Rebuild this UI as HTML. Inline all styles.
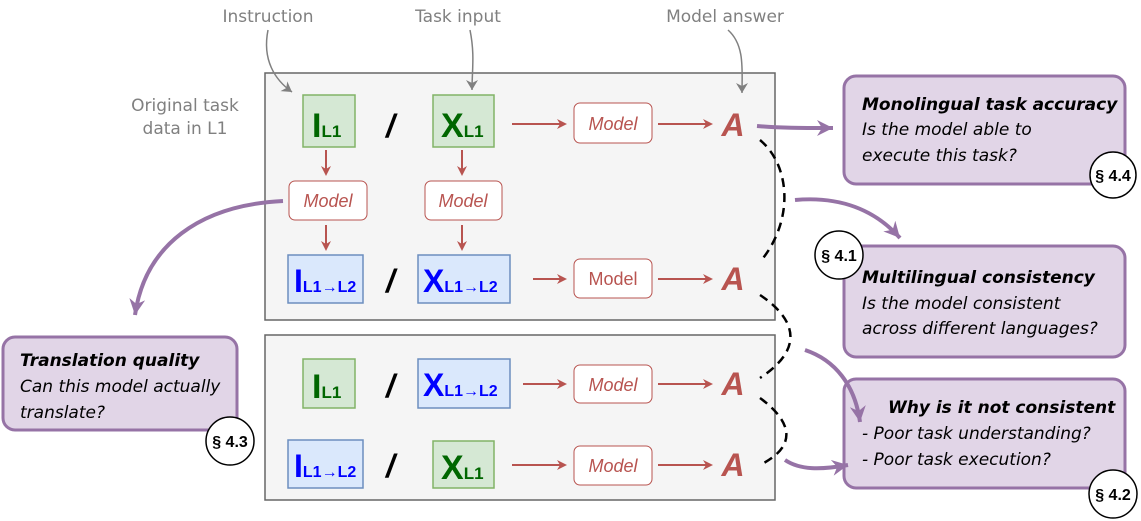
<!DOCTYPE html>
<html><head><meta charset="utf-8"><style>
body{margin:0;background:#fff;width:1141px;height:521px;overflow:hidden}
svg{display:block}
.g{font-family:"DejaVu Sans",sans-serif;fill:#808080;font-size:17px}
.m{font-family:"Liberation Sans",sans-serif;font-style:italic;fill:#b85450;font-size:18px}
.mn{font-family:"Liberation Sans",sans-serif;fill:#b85450;font-size:18px}
.A{font-family:"Liberation Sans",sans-serif;font-style:italic;font-weight:bold;fill:#b85450;font-size:32px}
.sl{font-family:"Liberation Sans",sans-serif;font-style:italic;font-weight:bold;fill:#000;font-size:32px}
.gr{font-family:"Liberation Sans",sans-serif;font-weight:bold;fill:#006600}
.bl{font-family:"Liberation Sans",sans-serif;font-weight:bold;fill:#0000ff}
.h{font-family:"DejaVu Sans",sans-serif;font-style:italic;font-size:17px;fill:#000}
.hb{font-family:"DejaVu Sans",sans-serif;font-style:italic;font-weight:bold;font-size:17px;fill:#000}
.c{font-family:"Liberation Sans",sans-serif;font-weight:bold;font-size:16px;fill:#000}
</style></head><body>
<svg width="1141" height="521" viewBox="0 0 1141 521">
<defs>
<marker id="r" markerWidth="10" markerHeight="10" refX="8" refY="5" orient="auto" markerUnits="userSpaceOnUse"><path d="M0,0 L10,5 L0,10 L3,5z" fill="#b85450"/></marker>
<marker id="gy" markerWidth="12" markerHeight="12" refX="10" refY="6" orient="auto" markerUnits="userSpaceOnUse"><path d="M0,0 L10,6 L0,12 L3,6z" fill="#808080"/></marker>
<marker id="p" markerWidth="18" markerHeight="16" refX="16" refY="8" orient="auto" markerUnits="userSpaceOnUse"><path d="M0,0 L16,8 L0,16 L5,8z" fill="#9673a6"/></marker>
</defs>
<rect x="265" y="73" width="510" height="247" fill="#f5f5f5" stroke="#666" stroke-width="1.5"/>
<rect x="265" y="335" width="510" height="165" fill="#f5f5f5" stroke="#666" stroke-width="1.5"/>
<text class="g" x="268" y="22" text-anchor="middle">Instruction</text>
<text class="g" x="458" y="22" text-anchor="middle">Task input</text>
<text class="g" x="725" y="22" text-anchor="middle">Model answer</text>
<text class="g" x="185" y="111" text-anchor="middle">Original task</text>
<text class="g" x="185" y="134" text-anchor="middle">data in L1</text>
<path d="M268,30 C262,60 275,80 292,92" fill="none" stroke="#808080" stroke-width="1.5" marker-end="url(#gy)"/>
<path d="M470,30 C475,55 472,70 472,90" fill="none" stroke="#808080" stroke-width="1.5" marker-end="url(#gy)"/>
<path d="M728,30 C745,45 742,70 742,93" fill="none" stroke="#808080" stroke-width="1.5" marker-end="url(#gy)"/>
<rect x="303" y="95" width="52" height="52" fill="#d5e8d4" stroke="#82b366" stroke-width="1.5"/>
<text class="gr" x="312" y="137" font-size="34">I<tspan font-size="17">L1</tspan></text>
<text class="sl" x="386" y="137">/</text>
<rect x="433" y="95" width="61" height="52" fill="#d5e8d4" stroke="#82b366" stroke-width="1.5"/>
<text class="gr" x="441" y="137" font-size="34">X<tspan font-size="17">L1</tspan></text>
<line x1="512" y1="124" x2="565" y2="124" stroke="#b85450" stroke-width="2" marker-end="url(#r)"/>
<rect x="574" y="103" width="78" height="40" rx="6" fill="#fff" stroke="#b85450"/>
<text class="m" x="613" y="130" text-anchor="middle">Model</text>
<line x1="658" y1="124" x2="711" y2="124" stroke="#b85450" stroke-width="2" marker-end="url(#r)"/>
<text class="A" x="733" y="136" text-anchor="middle">A</text>
<line x1="326" y1="150" x2="326" y2="174" stroke="#b85450" stroke-width="2" marker-end="url(#r)"/>
<line x1="462" y1="150" x2="462" y2="174" stroke="#b85450" stroke-width="2" marker-end="url(#r)"/>
<rect x="289" y="181" width="78" height="39" rx="6" fill="#fff" stroke="#b85450"/>
<text class="m" x="328" y="207" text-anchor="middle">Model</text>
<rect x="425" y="181" width="77" height="39" rx="6" fill="#fff" stroke="#b85450"/>
<text class="m" x="463" y="207" text-anchor="middle">Model</text>
<line x1="326" y1="225" x2="326" y2="249" stroke="#b85450" stroke-width="2" marker-end="url(#r)"/>
<line x1="462" y1="225" x2="462" y2="249" stroke="#b85450" stroke-width="2" marker-end="url(#r)"/>
<rect x="288" y="255" width="75" height="48" fill="#dae8fc" stroke="#6c8ebf" stroke-width="1.5"/>
<text class="bl" x="294" y="292" font-size="32">I<tspan font-size="16">L1→L2</tspan></text>
<text class="sl" x="386" y="292">/</text>
<rect x="418" y="255" width="92" height="48" fill="#dae8fc" stroke="#6c8ebf" stroke-width="1.5"/>
<text class="bl" x="423" y="292" font-size="32">X<tspan font-size="16">L1→L2</tspan></text>
<line x1="533" y1="279" x2="565" y2="279" stroke="#b85450" stroke-width="2" marker-end="url(#r)"/>
<rect x="574" y="259" width="78" height="39" rx="6" fill="#fff" stroke="#b85450"/>
<text class="mn" x="613" y="285" text-anchor="middle">Model</text>
<line x1="658" y1="279" x2="711" y2="279" stroke="#b85450" stroke-width="2" marker-end="url(#r)"/>
<text class="A" x="733" y="290" text-anchor="middle">A</text>
<rect x="303" y="359" width="52" height="49" fill="#d5e8d4" stroke="#82b366" stroke-width="1.5"/>
<text class="gr" x="312" y="398" font-size="34">I<tspan font-size="17">L1</tspan></text>
<text class="sl" x="386" y="397">/</text>
<rect x="418" y="359" width="92" height="49" fill="#dae8fc" stroke="#6c8ebf" stroke-width="1.5"/>
<text class="bl" x="423" y="396" font-size="32">X<tspan font-size="16">L1→L2</tspan></text>
<line x1="523" y1="384" x2="565" y2="384" stroke="#b85450" stroke-width="2" marker-end="url(#r)"/>
<rect x="574" y="365" width="78" height="38" rx="6" fill="#fff" stroke="#b85450"/>
<text class="m" x="613" y="391" text-anchor="middle">Model</text>
<line x1="658" y1="384" x2="711" y2="384" stroke="#b85450" stroke-width="2" marker-end="url(#r)"/>
<text class="A" x="733" y="395" text-anchor="middle">A</text>
<rect x="288" y="440" width="75" height="48" fill="#dae8fc" stroke="#6c8ebf" stroke-width="1.5"/>
<text class="bl" x="294" y="477" font-size="32">I<tspan font-size="16">L1→L2</tspan></text>
<text class="sl" x="386" y="477">/</text>
<rect x="433" y="441" width="61" height="47" fill="#d5e8d4" stroke="#82b366" stroke-width="1.5"/>
<text class="gr" x="441" y="479" font-size="34">X<tspan font-size="17">L1</tspan></text>
<line x1="512" y1="465" x2="565" y2="465" stroke="#b85450" stroke-width="2" marker-end="url(#r)"/>
<rect x="574" y="446" width="78" height="39" rx="6" fill="#fff" stroke="#b85450"/>
<text class="m" x="613" y="472" text-anchor="middle">Model</text>
<line x1="658" y1="465" x2="711" y2="465" stroke="#b85450" stroke-width="2" marker-end="url(#r)"/>
<text class="A" x="733" y="476" text-anchor="middle">A</text>
<g fill="none" stroke="#000" stroke-width="2.5" stroke-dasharray="9,6">
<path d="M760,140 C790,165 795,220 760,262"/>
<path d="M760,295 C790,315 810,345 760,378"/>
<path d="M760,398 C790,420 800,445 760,465"/>
</g>
<rect x="844" y="76" width="281" height="108" rx="12" fill="#e1d5e7" stroke="#9673a6" stroke-width="3"/>
<text class="hb" x="862" y="110">Monolingual task accuracy</text>
<text class="h" x="862" y="135">Is the model able to</text>
<text class="h" x="862" y="161">execute this task?</text>
<rect x="844" y="246" width="281" height="111" rx="12" fill="#e1d5e7" stroke="#9673a6" stroke-width="3"/>
<text class="hb" x="862" y="283">Multilingual consistency</text>
<text class="h" x="862" y="309">Is the model consistent</text>
<text class="h" x="862" y="334">across different languages?</text>
<rect x="844" y="379" width="281" height="109" rx="12" fill="#e1d5e7" stroke="#9673a6" stroke-width="3"/>
<text class="hb" x="888" y="413">Why is it not consistent</text>
<text class="h" x="862" y="439">- Poor task understanding?</text>
<text class="h" x="862" y="465">- Poor task execution?</text>
<rect x="3" y="337" width="234" height="93" rx="12" fill="#e1d5e7" stroke="#9673a6" stroke-width="3"/>
<text class="hb" x="20" y="366">Translation quality</text>
<text class="h" x="20" y="392">Can this model actually</text>
<text class="h" x="20" y="418">translate?</text>
<g fill="none" stroke="#9673a6" stroke-width="4">
<path d="M757,126 C780,128 800,128 833,128" marker-end="url(#p)"/>
<path d="M795,200 C840,196 875,210 900,238" marker-end="url(#p)"/>
<path d="M805,350 C835,360 855,385 860,422" marker-end="url(#p)"/>
<path d="M785,460 C800,470 820,470 848,465" marker-end="url(#p)"/>
<path d="M283,201 C200,205 145,245 135,315" marker-end="url(#p)"/>
</g>
<g fill="#fff" stroke="#000" stroke-width="1.5">
<circle cx="1113" cy="175" r="23"/><circle cx="839" cy="255" r="24"/><circle cx="1113" cy="494" r="24"/><circle cx="230" cy="441" r="24"/>
</g>
<text class="c" x="1113" y="181" text-anchor="middle">§ 4.4</text>
<text class="c" x="839" y="261" text-anchor="middle">§ 4.1</text>
<text class="c" x="1113" y="500" text-anchor="middle">§ 4.2</text>
<text class="c" x="230" y="447" text-anchor="middle">§ 4.3</text>
</svg>
</body></html>
